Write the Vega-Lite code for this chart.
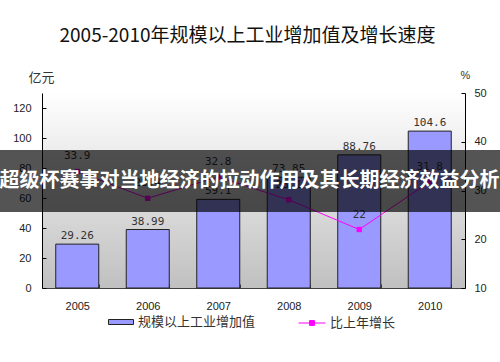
{
  "$schema": "https://vega.github.io/schema/vega-lite/v6.json",
  "width": 423,
  "height": 195,
  "autosize": "none",
  "padding": {"left": 42, "top": 93, "right": 35, "bottom": 74},
  "background": "white",
  "title": {
    "text": "2005-2010年规模以上工业增加值及增长速度",
    "font": "Noto Sans CJK SC",
    "fontSize": 19,
    "fontWeight": "normal",
    "color": "#111111",
    "anchor": "middle",
    "frame": "group",
    "offset": 23,
    "dx": -6
  },
  "config": {
    "view": {
      "stroke": null,
      "fill": {
        "gradient": "linear",
        "x1": 0, "y1": 0, "x2": 0, "y2": 1,
        "stops": [
          {"offset": 0, "color": "#ffffff"},
          {"offset": 1, "color": "#c0c0c0"}
        ]
      }
    },
    "font": "Liberation Sans",
    "axis": {
      "labelFont": "Liberation Sans",
      "labelFontSize": 11,
      "labelColor": "#222222",
      "labelOverlap": false,
      "grid": false
    },
    "axisY": {"labelOverlap": false},
    "axisQuantitative": {"labelOverlap": false},
    "legend": {
      "labelFont": "Noto Sans CJK SC",
      "labelFontSize": 13,
      "labelColor": "#333333",
      "orient": "none",
      "title": null
    }
  },
  "data": {
    "values": [
      {"year": "2005", "value": 29.26, "growth": 33.9},
      {"year": "2006", "value": 38.99, "growth": 28.4},
      {"year": "2007", "value": 59.1, "growth": 32.8},
      {"year": "2008", "value": 73.85, "growth": 28.1},
      {"year": "2009", "value": 88.76, "growth": 22.0},
      {"year": "2010", "value": 104.6, "growth": 31.8}
    ]
  },
  "encoding": {
    "x": {
      "field": "year",
      "type": "ordinal",
      "title": null,
      "scale": {"paddingInner": 0.39, "paddingOuter": 0.195},
      "axis": {
        "labelAngle": 0,
        "domainColor": "#404040",
        "tickBand": "extent",
        "tickColor": "#404040",
        "tickSize": -4,
        "labelPadding": 16
      }
    }
  },
  "layer": [
    {
      "encoding": {
        "y": {
          "field": "value",
          "type": "quantitative",
          "scale": {"domain": [0, 130], "nice": false},
          "axis": {
            "values": [0, 20, 40, 60, 80, 100, 120],
            "labelOverlap": false,
            "title": "亿元",
            "titleFont": "Noto Sans CJK SC",
            "titleFontSize": 13,
            "titleFontWeight": "normal",
            "titleColor": "#333333",
            "titleAngle": 0,
            "titleAlign": "center",
            "titleBaseline": "bottom",
            "titleX": -1,
            "titleY": -9,
            "domainColor": "#000000",
            "tickColor": "#000000",
            "tickSize": -4,
            "labelPadding": 15
          }
        }
      },
      "layer": [
        {
          "mark": {"type": "bar", "fill": "#9999ff", "stroke": "#222222", "strokeWidth": 1},
          "encoding": {
            "fill": {
              "datum": "规模以上工业增加值",
              "scale": {"range": ["#9999ff"]},
              "legend": {
                "legendX": 66,
                "legendY": 216,
                "symbolType": "M-1,-0.2h2v0.4h-2z",
                "symbolSize": 625,
                "symbolStrokeColor": "#222222",
                "symbolStrokeWidth": 1
              }
            }
          }
        },
        {
          "mark": {"type": "text", "baseline": "bottom", "dy": -3, "font": "DejaVu Sans Mono", "fontSize": 11, "color": "#333333"},
          "encoding": {
            "text": {"field": "value", "type": "quantitative"}
          }
        }
      ]
    },
    {
      "layer": [
        {
          "mark": {"type": "line", "color": "#ff00ff", "strokeWidth": 1},
          "encoding": {
            "y": {
              "field": "growth",
              "type": "quantitative",
              "scale": {"domain": [10, 50], "nice": false},
              "axis": {
                "orient": "right",
                "values": [10, 20, 30, 40, 50],
                "labelOverlap": false,
                "title": "%",
                "titleFont": "Liberation Sans",
                "titleFontSize": 11,
                "titleFontWeight": "normal",
                "titleColor": "#333333",
                "titleAngle": 0,
                "titleAlign": "center",
                "titleBaseline": "bottom",
                "titleX": 0,
                "titleY": -13,
                "domainColor": "#000000",
                "tickColor": "#000000",
                "tickSize": -4,
                "labelPadding": 13
              }
            },
            "stroke": {
              "datum": "比上年增长",
              "scale": {"range": ["#ff00ff"]},
              "legend": {
                "legendX": 256,
                "legendY": 216,
                "symbolType": "M-1,0L1,0M-0.18,-0.18h0.36v0.36h-0.36z",
                "symbolSize": 729,
                "symbolFillColor": "#ff00ff",
                "symbolStrokeWidth": 1
              }
            }
          }
        },
        {
          "mark": {"type": "point", "shape": "square", "filled": true, "size": 28, "color": "#ff00ff", "opacity": 1},
          "encoding": {
            "y": {"field": "growth", "type": "quantitative"}
          }
        },
        {
          "mark": {"type": "text", "baseline": "middle", "dy": -15, "font": "DejaVu Sans Mono", "fontSize": 11, "color": "#333333"},
          "encoding": {
            "y": {"field": "growth", "type": "quantitative"},
            "text": {"field": "growth", "type": "quantitative"}
          }
        },
        {
          "data": {"values": [{"banner": "超级杯赛事对当地经济的拉动作用及其长期经济效益分析", "top": 38.3, "bottom": 25.6, "mid": 31.9}]},
          "mark": {"type": "rect", "color": "#000000", "opacity": 0.67, "clip": false, "x": 0, "x2": {"expr": "width + 35"}, "xOffset": -42},
          "encoding": {
            "x": null,
            "y": {"field": "top", "type": "quantitative"},
            "y2": {"field": "bottom"}
          }
        },
        {
          "data": {"values": [{"banner": "超级杯赛事对当地经济的拉动作用及其长期经济效益分析", "top": 38.3, "bottom": 25.6, "mid": 31.9}]},
          "mark": {"type": "text", "color": "#ffffff", "font": "Noto Sans CJK SC", "fontSize": 20, "fontWeight": "bold", "baseline": "middle", "clip": false, "dx": -4},
          "encoding": {
            "x": null,
            "y": {"field": "mid", "type": "quantitative"},
            "text": {"field": "banner"}
          }
        }
      ]
    }
  ],
  "resolve": {"scale": {"y": "independent", "fill": "independent", "stroke": "independent"}}
}
